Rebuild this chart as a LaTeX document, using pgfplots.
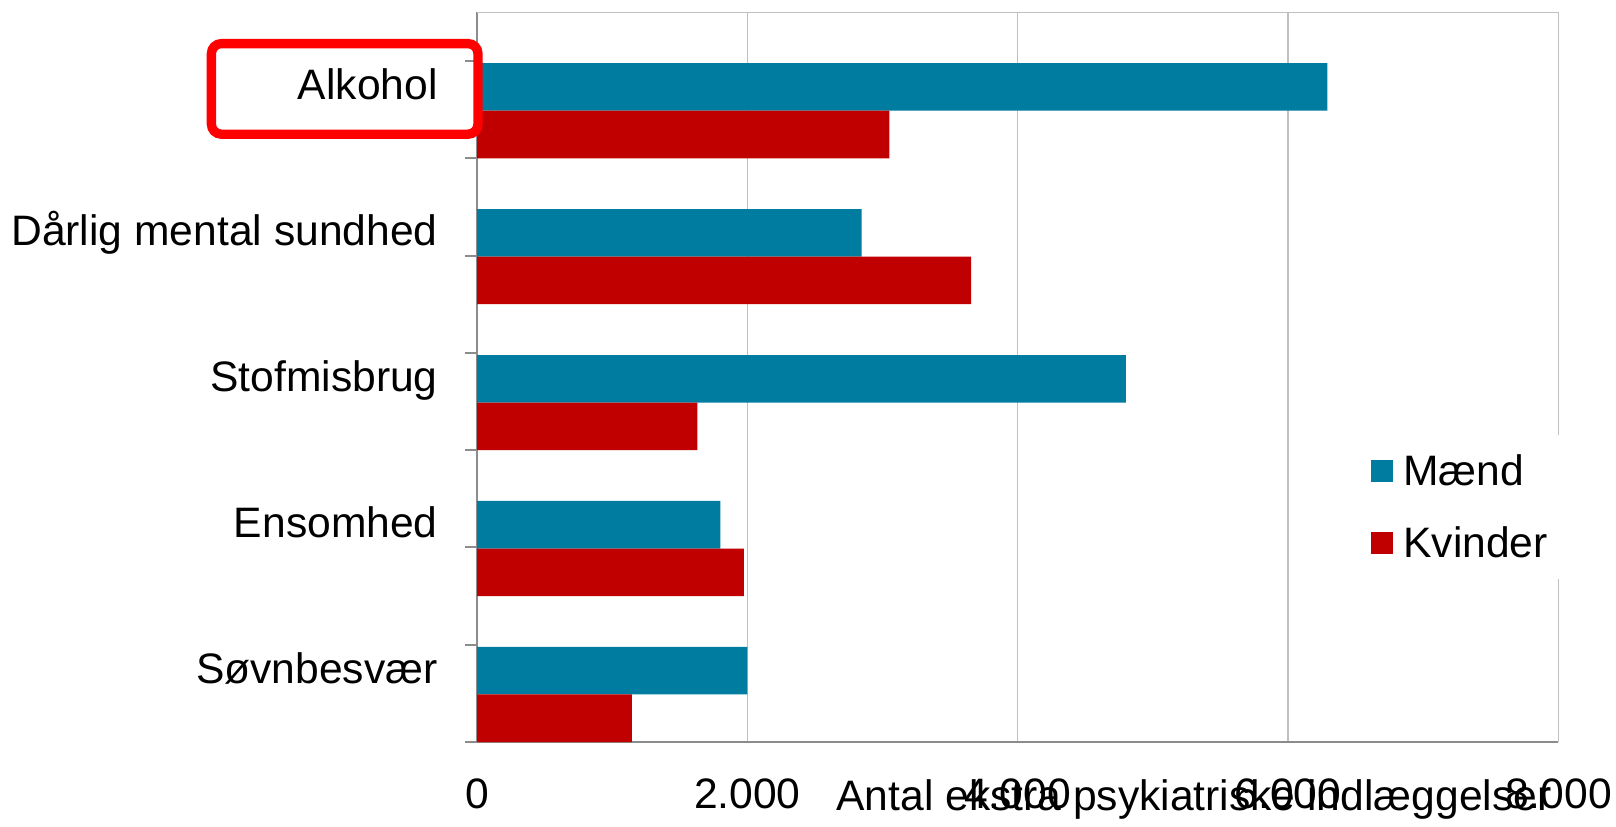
\documentclass[border=0pt]{standalone}
\usepackage{fontspec}
\setmainfont{Liberation Sans}
\usepackage{pgfplots}
\pgfplotsset{compat=1.18}
\definecolor{mblue}{RGB}{0,124,160}
\definecolor{kred}{RGB}{192,0,0}
\definecolor{axgray}{RGB}{140,140,140}
\definecolor{grgray}{RGB}{192,192,192}
\begin{document}
\begin{tikzpicture}
\path[use as bounding box] (0,0) rectangle (808pt,413pt);
\begin{axis}[
  at={(238.5pt,42pt)}, anchor=south west,
  scale only axis, width=540.7pt, height=364.8pt,
  xmin=0, xmax=8000, ymin=0, ymax=5,
  axis lines*=left,
  axis line style={draw=axgray, line width=1pt},
  xtick={0,2000,4000,6000,8000},
  xticklabels={0,2.000,4.000,6.000,8.000},
  ytick={0.5,1.5,2.5,3.5,4.5},
  yticklabels={Søvnbesvær,Ensomhed,Stofmisbrug,Dårlig mental sundhed,Alkohol},
  minor ytick={0,0.6667,1.3333,2,2.6667,3.3333,4,4.6667},
  major tick length=0pt,
  minor tick length=6pt,
  tick align=outside,
  minor tick style={draw=axgray, line width=1pt},
  xmajorgrids, grid style={draw=grgray, line width=0.65pt},
  font=\fontsize{21.3}{25}\selectfont,
  xticklabel style={anchor=base, inner sep=0pt, yshift=-33pt},
  yticklabel style={anchor=base east, inner sep=0pt, xshift=-19.5pt, yshift=-7pt},
  xlabel={Antal ekstra psykiatriske indlæggelser},
  xlabel style={at={(axis description cs:0.663,0)}, anchor=base, inner sep=0pt, yshift=-34pt},
  xbar, bar width=0.326,
  legend style={at={(axis description cs:0.8082,0.422)}, anchor=north west, fill=white, draw=none, inner xsep=10pt, inner ysep=10.5pt, row sep=21pt, column sep=5pt, nodes={inner sep=0pt, text height=15pt, text depth=0pt}, font=\fontsize{21.3}{25}\selectfont},
  legend cell align=left,
]
\addplot[fill=mblue, draw=none, bar shift=-0.011, legend image code/.code={\fill[mblue] (0pt,-5.5pt) rectangle (11pt,5.5pt);}]
  coordinates {(2000,0.5) (1800,1.5) (4800,2.5) (2845,3.5) (6290,4.5)};
\addplot[fill=kred, draw=none, bar shift=-0.337, legend image code/.code={\fill[kred] (0pt,-5.5pt) rectangle (11pt,5.5pt);}]
  coordinates {(1145,0.5) (1975,1.5) (1630,2.5) (3655,3.5) (3050,4.5)};
\legend{Mænd,Kvinder}
\draw[grgray, line width=0.65pt] (axis description cs:0,1) -- (axis description cs:1,1);
\end{axis}
\draw[red, line width=4.67pt, rounded corners=5pt] (105.7pt,345.9pt) rectangle (239pt,391.2pt);
\end{tikzpicture}
\end{document}
